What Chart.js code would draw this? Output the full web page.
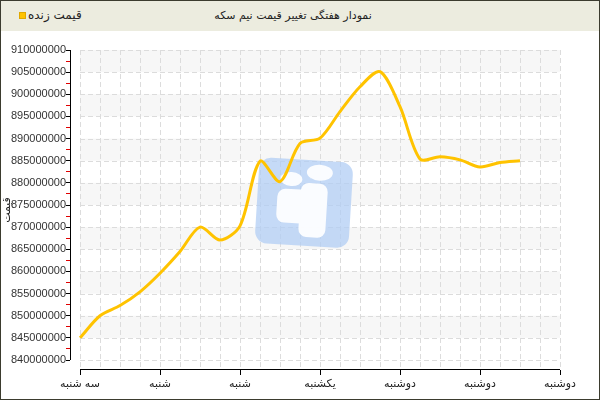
<!DOCTYPE html>
<html>
<head>
<meta charset="utf-8">
<script src="https://cdn.jsdelivr.net/npm/chart.js@4"></script>
<style>
  html, body { margin: 0; padding: 0; background: #fff; }
  #frame { position: relative; width: 600px; height: 400px; overflow: hidden; font-family: Tahoma, "DejaVu Sans", sans-serif; }
  #head { position: absolute; left: 0; top: 0; width: 600px; height: 31px; background: #ececdf; }
  #title { position: absolute; top: 9px; left: 0; width: 586px; text-align: center; font-size: 11px; color: #222; direction: rtl; }
  #legend { position: absolute; left: 19px; top: 8px; font-size: 12px; color: #222; }
  #legend i { display: inline-block; width: 5px; height: 5px; background: #ffc300; border: 1px solid #e0a800; margin-right: 2px; vertical-align: middle; }
  #wrap { position: absolute; left: 0; top: 32px; width: 600px; height: 368px; }
  #border { position: absolute; left: 0; top: 0; right: 0; bottom: 0; border: 1px solid #3b3b2e; pointer-events: none; }
</style>
</head>
<body>
<div id="frame">
  <div id="head">
    <div id="title">نمودار هفتگی تغییر قیمت نیم سکه</div>
    <div id="legend"><i></i>قیمت زنده</div>
  </div>
  <div id="wrap"><canvas id="chart" width="600" height="368"></canvas></div>
  <div id="border"></div>
</div>
<script>
// ─── Data ────────────────────────────────────────────────────────────────────

const xLabels = ['سه شنبه', 'شنبه', 'شنبه', 'یکشنبه', 'دوشنبه', 'دوشنبه', 'دوشنبه'];

// position along the x axis, in label steps (0 = first label)
const pointPos = [0, 0.25, 0.5, 0.75, 1, 1.25, 1.5, 1.75, 2, 2.25, 2.5, 2.75,
                  3, 3.25, 3.5, 3.75, 4, 4.25, 4.5, 4.75, 5, 5.25, 5.5];

const prices = [845000000, 850000000, 852300000, 855400000, 859600000, 864500000,
                870000000, 867100000, 870300000, 884900000, 880300000, 888900000,
                890100000, 896100000, 901700000, 905100000, 897200000, 885400000,
                885900000, 885200000, 883600000, 884600000, 885000000];

const yMajor = [840000000, 845000000, 850000000, 855000000, 860000000, 865000000,
                870000000, 875000000, 880000000, 885000000, 890000000, 895000000,
                900000000, 905000000, 910000000];

const FONT = { family: 'Tahoma, "Liberation Sans", "DejaVu Sans", sans-serif', size: 11 };

// ─── Plot furniture: bands, horizontal grid, axis lines, watermark ──────────

const backdrop = {
  id: 'backdrop',
  beforeDraw(chart) {
    const { ctx, scales: { x, y } } = chart;
    const x0 = x.getPixelForValue(0), x1 = x.getPixelForValue(6);
    ctx.save();
    ctx.fillStyle = '#f7f7f7';
    for (let i = 1; i < yMajor.length - 1; i += 2) {
      const top = y.getPixelForValue(yMajor[i + 1]);
      const bot = y.getPixelForValue(yMajor[i]);
      ctx.fillRect(x0, top, x1 - x0, bot - top);
    }
    ctx.strokeStyle = '#dcdcdc';
    ctx.lineWidth = 1;
    ctx.setLineDash([5, 3]);
    yMajor.forEach(v => {
      const py = Math.round(y.getPixelForValue(v)) + 0.5;
      ctx.beginPath();
      ctx.moveTo(x0, py);
      ctx.lineTo(x1, py);
      ctx.stroke();
    });
    ctx.restore();
  },
  beforeDatasetsDraw(chart) {
    const { ctx, chartArea, scales: { x, y } } = chart;
    // axis lines stop short of each other, as in the original
    ctx.save();
    ctx.strokeStyle = '#000';
    ctx.lineWidth = 1;
    const ax = Math.round(chartArea.left) + 0.5, ay = Math.round(chartArea.bottom) - 0.5;
    ctx.beginPath();
    ctx.moveTo(ax, y.getPixelForValue(yMajor[yMajor.length - 1]));
    ctx.lineTo(ax, y.getPixelForValue(yMajor[0]));
    ctx.moveTo(x.getPixelForValue(0), ay);
    ctx.lineTo(x.getPixelForValue(6), ay);
    ctx.stroke();
    ctx.restore();

    const cx = x.getPixelForValue(2.8), cy = y.getPixelForValue(875500000);
    ctx.save();
    ctx.translate(cx, cy);
    ctx.rotate(3.5 * Math.PI / 180);
    ctx.fillStyle = 'rgba(178,206,244,0.75)';
    ctx.beginPath();
    ctx.roundRect(-47, -43, 94, 86, 12);
    ctx.fill();
    ctx.fillStyle = 'rgba(255,255,255,0.92)';
    ctx.beginPath();
    ctx.ellipse(14, -31, 13, 8, 0, 0, Math.PI * 2);
    ctx.ellipse(-14, -23, 11, 7, 0, 0, Math.PI * 2);
    ctx.fill();
    ctx.beginPath();
    ctx.roundRect(-27, -13, 36, 34, 8);
    ctx.roundRect(-4, -20, 27, 54, 8);
    ctx.fill();
    ctx.restore();
  },
};

// ─── Chart ───────────────────────────────────────────────────────────────────

new Chart(document.getElementById('chart').getContext('2d'), {
  type: 'line',
  data: {
    datasets: [{
      label: 'قیمت زنده',
      data: pointPos.map((p, i) => ({ x: p, y: prices[i] })),
      borderColor: '#ffc300',
      borderWidth: 3,
      pointRadius: 0,
      tension: 0.3,
      fill: false,
    }],
  },
  options: {
    responsive: false,
    animation: false,
    layout: { padding: { top: 18, right: 40, left: 0, bottom: 0 } },
    plugins: { legend: { display: false }, tooltip: { enabled: false } },
    scales: {
      x: {
        type: 'linear',
        min: -0.125,
        max: 6,
        afterBuildTicks: s => { s.ticks = Array.from({ length: 25 }, (_, i) => ({ value: i * 0.25 })); },
        afterFit: s => { s.height = 30; },
        ticks: {
          autoSkip: false, maxRotation: 0, padding: 2, color: '#222', font: FONT,
          callback: v => Number.isInteger(v) ? xLabels[v] : '',
        },
        grid: {
          color: '#dcdcdc',
          tickLength: 5,
          tickColor: c => Number.isInteger(c.tick.value) ? '#000' : 'transparent',
        },
        border: { display: false, dash: [5, 3] },
      },
      y: {
        min: 837742000,
        max: 910000000,
        afterBuildTicks: s => {
          const t = [];
          for (let i = 0; i < yMajor.length; i++) {
            t.push({ value: yMajor[i] });
            if (i < yMajor.length - 1) t.push({ value: (yMajor[i] + yMajor[i + 1]) / 2 });
          }
          s.ticks = t;
        },
        afterFit: s => { s.width = 70; },
        ticks: {
          autoSkip: false, padding: 0, color: '#333', font: FONT,
          callback: v => v % 5000000 === 0 ? String(v) : '',
        },
        grid: {
          drawOnChartArea: false,
          tickLength: 4,
          tickColor: c => c.tick.value % 5000000 === 0 ? '#000' : '#e00000',
        },
        border: { display: false },
        title: { display: true, text: 'قیمت', color: '#222', font: FONT, padding: { top: 0, bottom: 0 } },
      },
    },
  },
  plugins: [backdrop],
});
</script>
</body>
</html>
